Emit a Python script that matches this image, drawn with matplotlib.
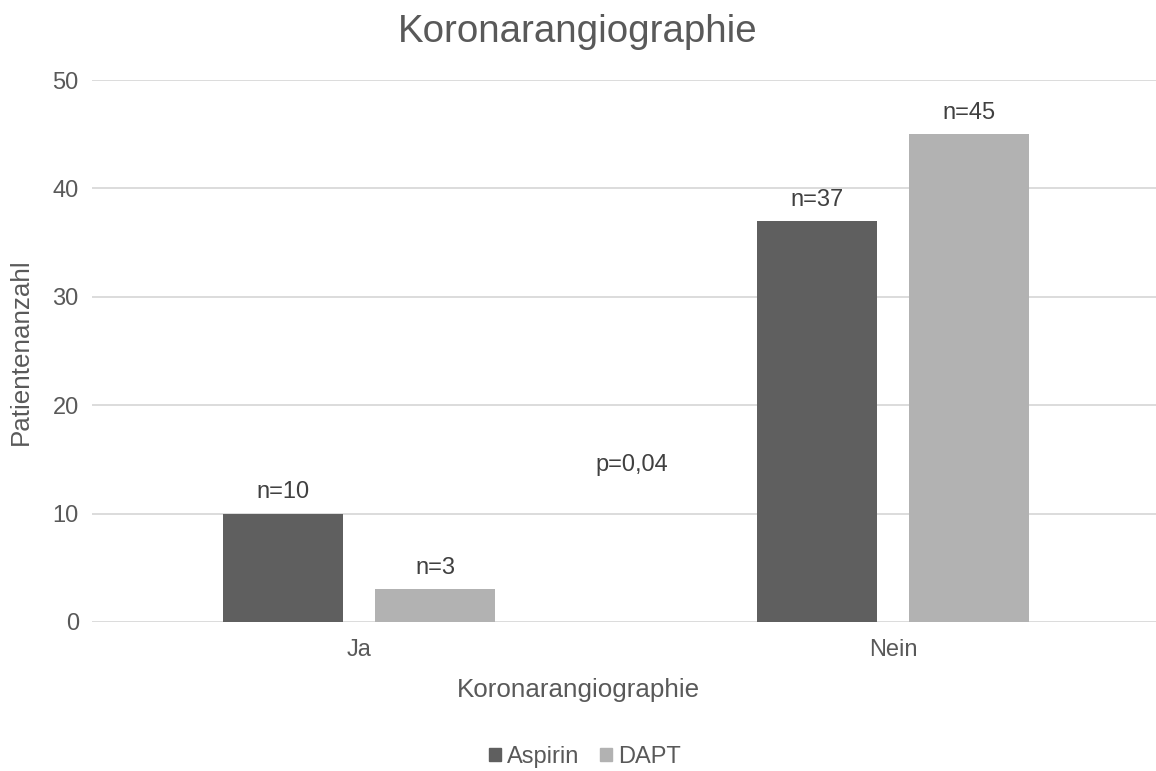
import numpy as np
import matplotlib.pyplot as plt
from matplotlib.patches import Patch

# Daten
kategorien = ['Ja', 'Nein']
aspirin = [10, 37]
dapt = [3, 45]
serien = ['Aspirin', 'DAPT']
farben = ['#5f5f5f', '#b2b2b2']
y_ticks = [0, 10, 20, 30, 40, 50]

textfarbe = '#595959'
plt.rcParams['font.family'] = ['Liberation Sans', 'DejaVu Sans']

fig = plt.figure(figsize=(11.56, 7.71), dpi=100)
W, H = 1156, 771
ax = fig.add_axes([92 / W, 149 / H, (1160 - 92) / W, 542 / H])

x = np.arange(len(kategorien))
breite = 0.2247
versatz = 0.1423

balken_a = ax.bar(x - versatz, aspirin, breite, color=farben[0], zorder=3)
balken_d = ax.bar(x + versatz, dapt, breite, color=farben[1], zorder=3)

# Beschriftung der Balken
for balken, werte in ((balken_a, aspirin), (balken_d, dapt)):
    for b, v in zip(balken, werte):
        ax.annotate(f'n={v}', (b.get_x() + b.get_width() / 2, v),
                    xytext=(0, 7.5), textcoords='offset points',
                    ha='center', va='bottom', fontsize=17, color='#404040')

ax.text(0.51, 14.5, 'p=0,04', ha='center', va='center', fontsize=17, color='#404040')

ax.set_xlim(-0.5, 1.5)
ax.set_ylim(0, 50)
ax.set_yticks(y_ticks)
ax.set_xticks(x)
ax.set_xticklabels(kategorien)
ax.tick_params(axis='both', length=0, labelsize=17, labelcolor=textfarbe)
ax.tick_params(axis='y', pad=9.5)
ax.tick_params(axis='x', pad=12.5)
ax.grid(axis='y', color='#d9d9d9', linewidth=1.3, zorder=0)
for s in ax.spines.values():
    s.set_visible(False)

fig.text(578 / W, 1 - 690 / H, 'Koronarangiographie', ha='center', va='center',
         fontsize=18.7, color=textfarbe)
fig.text(21 / W, 1 - 352 / H, 'Patientenanzahl', ha='center', va='center',
         rotation=90, fontsize=18.7, color=textfarbe)
fig.text(578 / W, 1 - 32 / H, 'Koronarangiographie', ha='center', va='center',
         fontsize=27.7, color=textfarbe)

handles = [Patch(color=c, label=l) for c, l in zip(farben, serien)]
fig.legend(handles=handles, loc='center', bbox_to_anchor=(585 / W, 1 - 757 / H),
           ncol=2, frameon=False, fontsize=17, labelcolor=textfarbe,
           handlelength=0.5, handleheight=0.5, handletextpad=0.25, columnspacing=0.9)

fig.savefig('out.png', dpi=100)
